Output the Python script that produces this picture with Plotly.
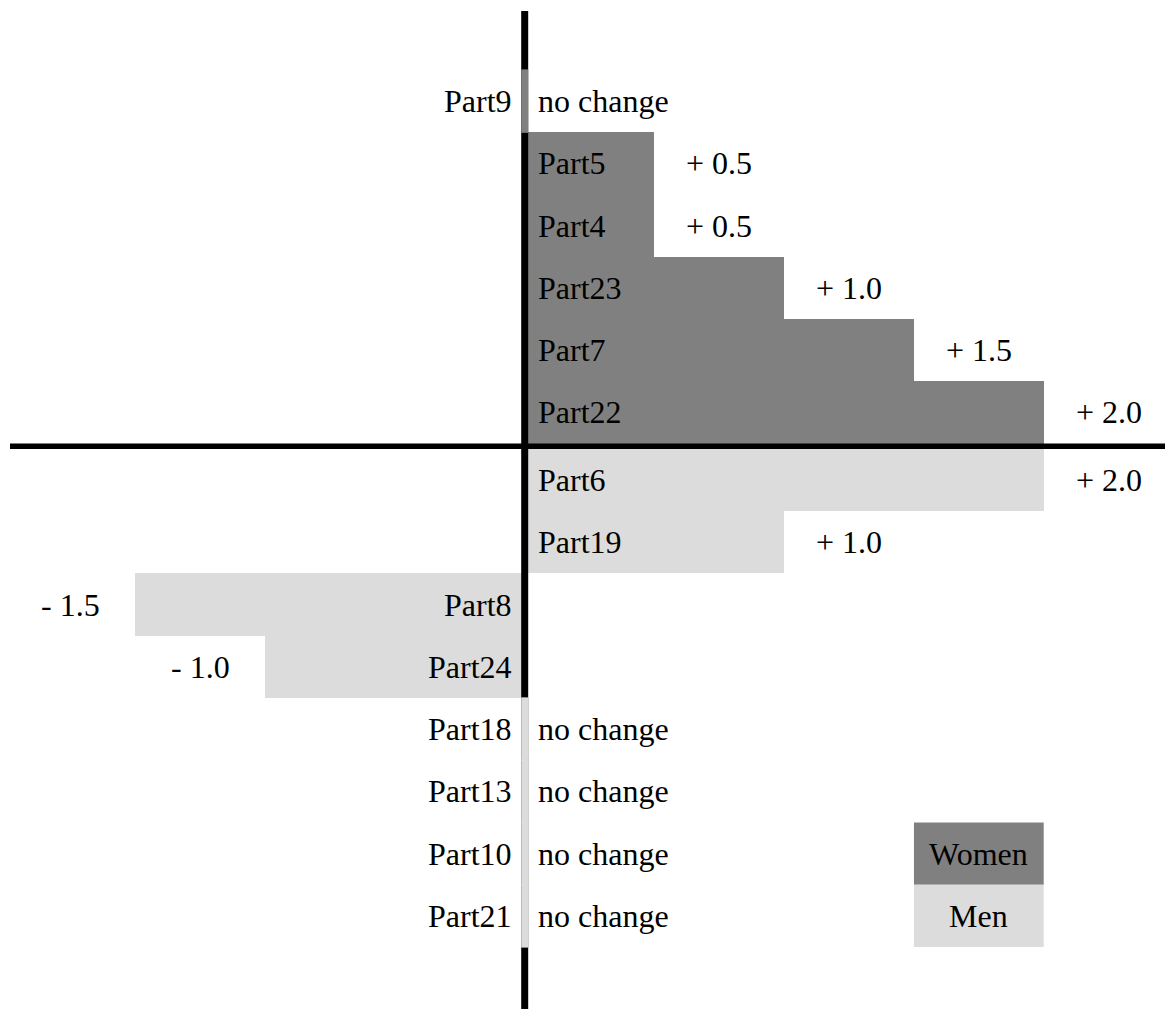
import plotly.graph_objects as go

# ---- data ----
women_parts = ["Part9", "Part5", "Part4", "Part23", "Part7", "Part22"]
women_values = [0.0, 0.5, 0.5, 1.0, 1.5, 2.0]
men_parts = ["Part6", "Part19", "Part8", "Part24", "Part18", "Part13", "Part10", "Part21"]
men_values = [2.0, 1.0, -1.5, -1.0, 0.0, 0.0, 0.0, 0.0]
legend_labels = ["Women", "Men"]

# ---- style ----
W, H = 1165, 1009
DARK = "#808080"
LIGHT = "#dcdcdc"
FONT = "Liberation Serif"
FS = 32
ROW_PX = 62.25
X0_PX = 524.7
X_PX_PER_UNIT = 259.5
TOP_PX = 70.0
GAP = 0.088  # rows gap between women and men blocks

women_pos = [i for i in range(len(women_parts))]
men_pos = [len(women_parts) + GAP + k for k in range(len(men_parts))]

y_top = -0.5 - TOP_PX / ROW_PX
y_bot = y_top + H / ROW_PX
x_left = -X0_PX / X_PX_PER_UNIT
x_right = (W - X0_PX) / X_PX_PER_UNIT

fig = go.Figure()
fig.add_trace(go.Bar(y=women_pos, x=women_values, orientation="h", width=1.0,
                     marker=dict(color=DARK, line=dict(width=0)), name="Women",
                     hoverinfo="skip"))
fig.add_trace(go.Bar(y=men_pos, x=men_values, orientation="h", width=1.0,
                     marker=dict(color=LIGHT, line=dict(width=0)), name="Men",
                     hoverinfo="skip"))

shapes = []
annotations = []

# axis lines
shapes.append(dict(type="line", xref="x", yref="y", x0=0, x1=0,
                   y0=-0.5 - (TOP_PX - 11) / ROW_PX, y1=y_bot + 1,
                   line=dict(color="black", width=7), layer="above"))
hy = len(women_parts) - 0.5 + GAP / 2
shapes.append(dict(type="line", xref="x", yref="y", x0=(10 - X0_PX) / X_PX_PER_UNIT,
                   x1=x_right + 1, y0=hy, y1=hy,
                   line=dict(color="black", width=5.5), layer="above"))


def fmt(v):
    if v > 0:
        return "+ %.1f" % v
    return "- %.1f" % abs(v)


def label(x, y, text, anchor, shift=0):
    annotations.append(dict(x=x, y=y, xref="x", yref="y", text=text, showarrow=False,
                            xanchor=anchor, xshift=shift,
                            font=dict(family=FONT, size=FS, color="black")))


def add_row(name, v, pos, color):
    if v == 0:
        shapes.append(dict(type="rect", xref="x", yref="y", xsizemode="pixel", xanchor=0,
                           x0=-3.5, x1=3.5, y0=pos - 0.51, y1=pos + 0.51,
                           fillcolor=color, line=dict(width=0), layer="above"))
        label(0, pos, name, "right", -11)
        label(0, pos, "no change", "left", 11)
    elif v > 0:
        label(0, pos, name, "left", 11)
        label(v + 0.25, pos, fmt(v), "center")
    else:
        label(0, pos, name, "right", -11)
        label(v - 0.25, pos, fmt(v), "center")


for n, v, p in zip(women_parts, women_values, women_pos):
    add_row(n, v, p, DARK)
for n, v, p in zip(men_parts, men_values, men_pos):
    add_row(n, v, p, LIGHT)

# legend cells in the last two rows, column [1.5, 2.0]
for lab, col, p in zip(legend_labels, [DARK, LIGHT], men_pos[-2:]):
    shapes.append(dict(type="rect", xref="x", yref="y", x0=1.5, x1=2.0, y0=p - 0.5, y1=p + 0.5,
                       fillcolor=col, line=dict(width=0), layer="above"))
    label(1.75, p, lab, "center")

fig.update_layout(
    width=W, height=H, margin=dict(l=0, r=0, t=0, b=0),
    paper_bgcolor="white", plot_bgcolor="white",
    showlegend=False, barmode="overlay", bargap=0,
    shapes=shapes, annotations=annotations,
    xaxis=dict(range=[x_left, x_right], visible=False, fixedrange=True),
    yaxis=dict(range=[y_bot, y_top], visible=False, fixedrange=True),
)

css = ("body{margin:0 !important;overflow:hidden !important}"
       ".modebar-container,.modebar{display:none !important}"
       "text.annotation-text{font-family:'Liberation Serif' !important}")
js = ("var s=document.createElement('style');s.textContent=\"" + css + "\";"
      "document.head.appendChild(s);")

fig.write_html("out.html", post_script=js)
